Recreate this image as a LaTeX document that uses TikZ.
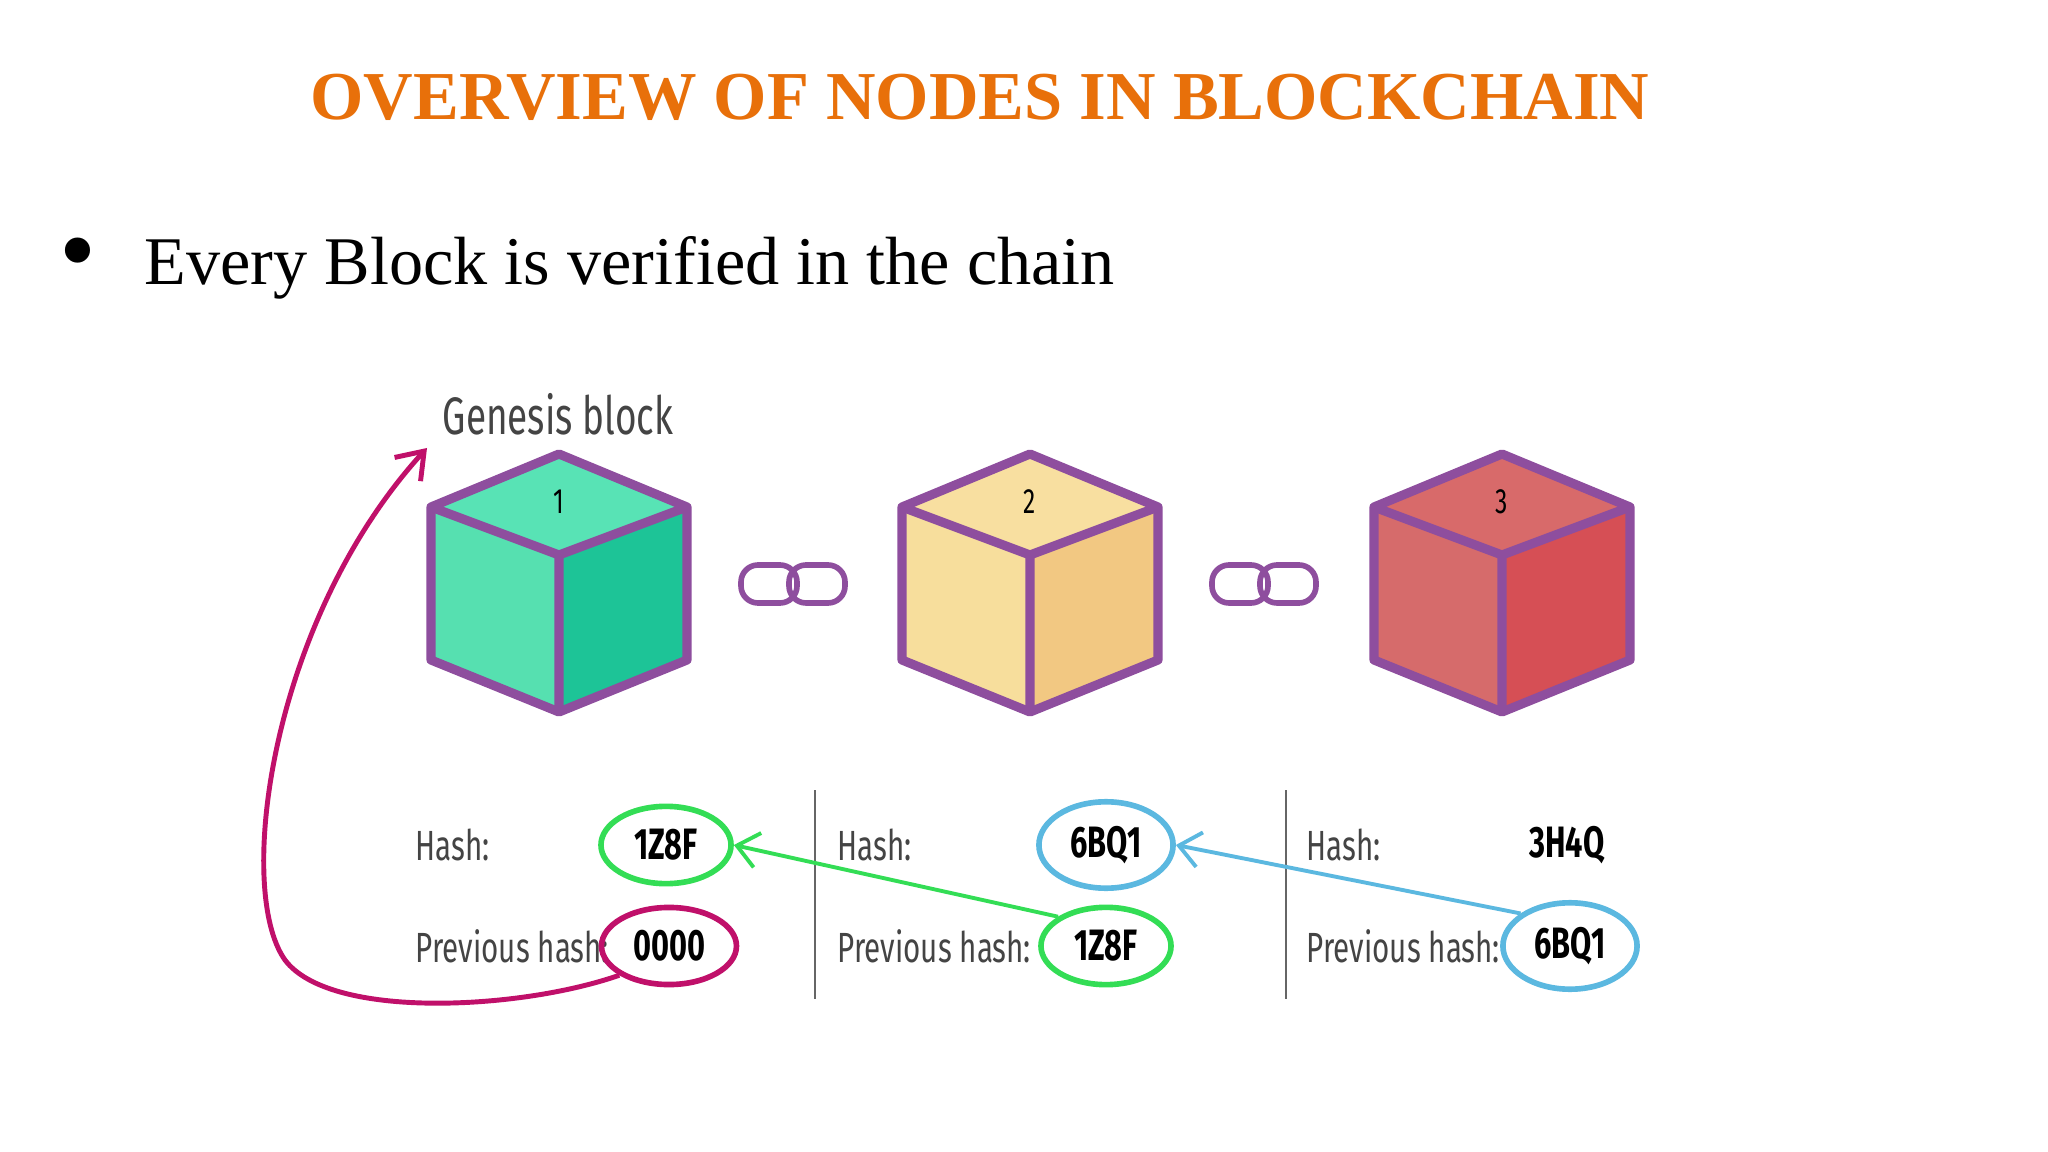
\documentclass[tikz,border=0pt]{standalone}
\usepackage{fontspec}
\setmainfont{Liberation Serif}
\newfontfamily\cond{Fira Sans}[FakeStretch=0.7]
\usetikzlibrary{shapes.geometric,arrows.meta,calc}
\definecolor{titleorange}{HTML}{E8700A}
\definecolor{cubeedge}{HTML}{8E4E9E}
\definecolor{hgreen}{HTML}{33DD55}
\definecolor{hblue}{HTML}{5BB8E0}
\definecolor{hmagenta}{HTML}{C0106A}
\definecolor{labgray}{HTML}{444444}
\definecolor{gtop}{HTML}{58E3B5}
\definecolor{gleft}{HTML}{56E0B0}
\definecolor{gright}{HTML}{1DC497}
\definecolor{ytop}{HTML}{F8DFA0}
\definecolor{yleft}{HTML}{F7DE9C}
\definecolor{yright}{HTML}{F2C882}
\definecolor{rtop}{HTML}{D86A6A}
\definecolor{rleft}{HTML}{D66B6B}
\definecolor{rright}{HTML}{D64F55}
\tikzset{
  edge/.style={draw=cubeedge, line width=2.6pt, line join=round},
  lbl/.style={anchor=west, font=\cond\fontsize{12}{14}\selectfont, text=labgray, inner sep=0pt},
  val/.style={font=\cond\bfseries\fontsize{12.5}{14}\selectfont, text=black},
  ring/.style={val, ellipse, draw=#1, line width=1.6pt, minimum width=1.3cm, minimum height=0.66cm},
  link/.style={draw=cubeedge, line width=1.6pt, rounded corners=0.17cm},
}
% #1 name, #2 x center, #3 top colour, #4 left colour, #5 right colour, #6 number
\newcommand\drawcube[6]{
  \coordinate (#1t) at (#2,454);
  \coordinate (#1l) at (#2-128,507);
  \coordinate (#1r) at (#2+128,507);
  \coordinate (#1c) at (#2,555);
  \coordinate (#1lb) at (#2-128,660);
  \coordinate (#1rb) at (#2+128,660);
  \coordinate (#1b) at (#2,712);
  \fill[#3] (#1t) -- (#1r) -- (#1c) -- (#1l) -- cycle;
  \fill[#4] (#1l) -- (#1c) -- (#1b) -- (#1lb) -- cycle;
  \fill[#5] (#1c) -- (#1r) -- (#1rb) -- (#1b) -- cycle;
  \draw[edge] (#1t) -- (#1r) -- (#1rb) -- (#1b) -- (#1lb) -- (#1l) -- cycle;
  \draw[edge] (#1l) -- (#1c) -- (#1r) (#1c) -- (#1b);
  \node[font=\cond\fontsize{10}{12}\selectfont] (#1n) at (#2,502) {#6};
}
\newcommand\drawlink[2]{
  \draw[link] (#1-52,#2-19) rectangle (#1+4,#2+19);
  \draw[link] (#1-4,#2-19) rectangle (#1+52,#2+19);
}
\begin{document}
\begin{tikzpicture}[x=0.01cm, y=-0.01cm]
\useasboundingbox (0,0) rectangle (2048,1152);
\fill[white] (0,0) rectangle (2048,1152);

\node[font=\bfseries\fontsize{19.5}{22}\selectfont, text=titleorange] (title) at (980,97) {OVERVIEW OF NODES IN BLOCKCHAIN};
\node[font=\fontsize{30}{30}\selectfont, inner sep=0pt] (dot) at (78,262) {\textbullet};
\node[anchor=base west, font=\fontsize{19.4}{22}\selectfont, inner sep=0pt] (bullet) at (144,285) {Every Block is verified in the chain};

\node[font=\cond\fontsize{15}{18}\selectfont, text=labgray] (genesis) at (558,414) {Genesis block};

\drawcube{a}{559}{gtop}{gleft}{gright}{1}
\drawcube{b}{1030}{ytop}{yleft}{yright}{2}
\drawcube{c}{1502}{rtop}{rleft}{rright}{3}
\drawlink{793}{584}
\drawlink{1264}{584}

\draw[gray!80!black, line width=0.6pt] (815,790) -- (815,999);
\draw[gray!80!black, line width=0.6pt] (1286,790) -- (1286,999);

\node[lbl] (h1) at (415,845) {Hash:};
\node[lbl] (p1) at (415,946) {Previous hash:};
\node[lbl] (h2) at (837,845) {Hash:};
\node[lbl] (p2) at (837,946) {Previous hash:};
\node[lbl] (h3) at (1306,845) {Hash:};
\node[lbl] (p3) at (1306,946) {Previous hash:};

\node[ring=hgreen] (v1) at (666,845) {1Z8F};
\node[ring=hmagenta] (w1) at (669,946) {0000};
\node[ring=hblue] (v2) at (1106,845) {6BQ1};
\node[ring=hgreen] (w2) at (1106,946) {1Z8F};
\node[val] (v3) at (1567,845) {3H4Q};
\node[ring=hblue] (w3) at (1570,946) {6BQ1};

\coordinate (gen) at (427,448);
\draw[hgreen, line width=1.1pt, -{Straight Barb[length=6pt,width=10pt]}] (w2.north west) -- (v1.east);
\draw[hblue, line width=1.1pt, -{Straight Barb[length=6pt,width=10pt]}] (w3.north west) -- (v2.east);
\draw[hmagenta, line width=1.4pt, -{Straight Barb[length=7pt,width=10pt]}]
  (w1.south west) .. controls (520,1010) and (330,1020) .. (285,960)
  .. controls (235,890) and (270,620) .. (gen);
\end{tikzpicture}
\end{document}
